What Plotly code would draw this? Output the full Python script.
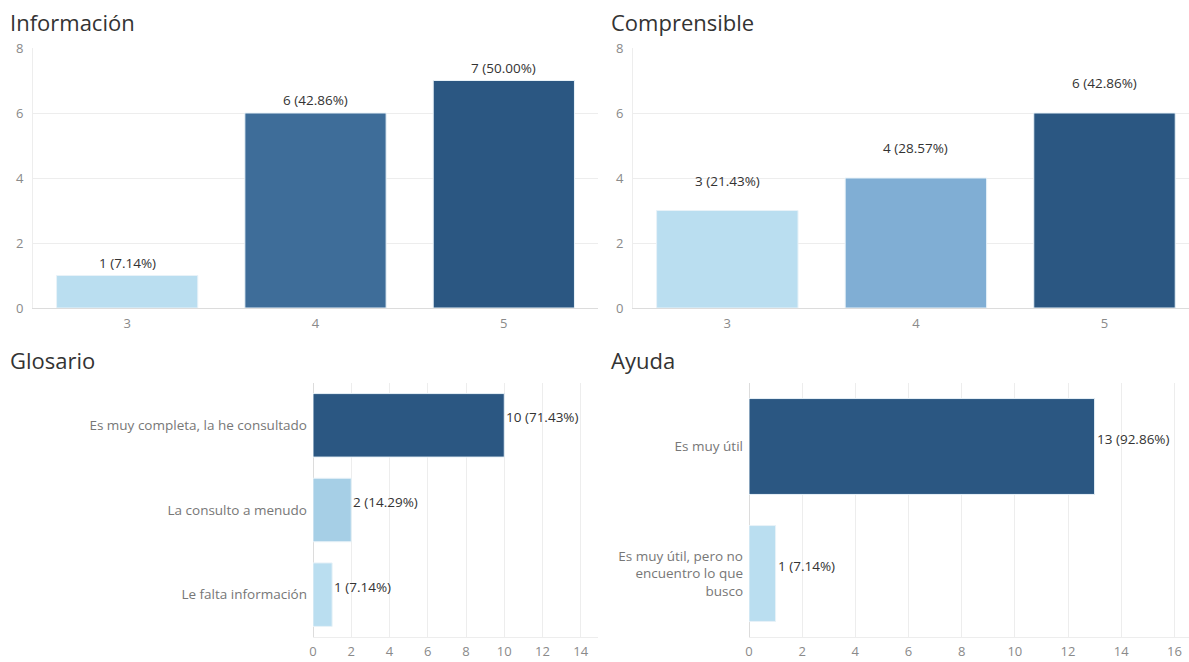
import plotly.graph_objects as go

W, H = 1189, 662

# --- data ---
info_cats = ["3", "4", "5"]
info_vals = [1, 6, 7]
info_pcts = ["7.14%", "42.86%", "50.00%"]
info_colors = ["#badef0", "#3e6d99", "#2b5782"]

comp_cats = ["3", "4", "5"]
comp_vals = [3, 4, 6]
comp_pcts = ["21.43%", "28.57%", "42.86%"]
comp_colors = ["#badef0", "#80aed4", "#2b5782"]

glos_cats = ["Es muy completa, la he consultado", "La consulto a menudo", "Le falta información"]
glos_vals = [10, 2, 1]
glos_pcts = ["71.43%", "14.29%", "7.14%"]
glos_colors = ["#2b5782", "#a6cfe6", "#badef0"]

ayuda_cats = ["Es muy útil", "Es muy útil, pero no<br>encuentro lo que<br>busco"]
ayuda_vals = [13, 1]
ayuda_pcts = ["92.86%", "7.14%"]
ayuda_colors = ["#2b5782", "#badef0"]

FONT = "Open Sans"
GRID = "#ededed"
TICK = "#8a8a8a"
LABEL = "#333333"
VAL_SIZE = 13.5


def px(x):
    return x / W


def py(y):
    return 1 - y / H


fig = go.Figure()

# vertical bar panels
fig.add_trace(go.Bar(x=info_cats, y=info_vals, marker_color=info_colors, width=0.75,
                     marker_line=dict(width=1, color="#e8f2f8"),
                     xaxis="x", yaxis="y", hoverinfo="skip"))
fig.add_trace(go.Bar(x=comp_cats, y=comp_vals, marker_color=comp_colors, width=0.75,
                     marker_line=dict(width=1, color="#e8f2f8"),
                     xaxis="x2", yaxis="y2", hoverinfo="skip"))
# horizontal bar panels
fig.add_trace(go.Bar(y=glos_cats, x=glos_vals, orientation="h", marker_color=glos_colors, width=0.75,
                     marker_line=dict(width=1, color="#e8f2f8"),
                     xaxis="x3", yaxis="y3", hoverinfo="skip"))
fig.add_trace(go.Bar(y=ayuda_cats, x=ayuda_vals, orientation="h", marker_color=ayuda_colors, width=0.755,
                     marker_line=dict(width=1, color="#e8f2f8"),
                     xaxis="x4", yaxis="y4", hoverinfo="skip"))

annotations = []

# value labels (category axes addressed by index)
for i, (v, p) in enumerate(zip(info_vals, info_pcts)):
    annotations.append(dict(x=i, y=v, xref="x", yref="y", text=f"{v} ({p})", showarrow=False,
                            yanchor="bottom", yshift=2, font=dict(size=VAL_SIZE, color=LABEL, family=FONT)))
for i, (v, p) in enumerate(zip(comp_vals, comp_pcts)):
    annotations.append(dict(x=i, y=v, xref="x2", yref="y2", text=f"{v} ({p})", showarrow=False,
                            yanchor="bottom", yshift=19, font=dict(size=VAL_SIZE, color=LABEL, family=FONT)))
for i, (v, p) in enumerate(zip(glos_vals, glos_pcts)):
    annotations.append(dict(x=v, y=i, xref="x3", yref="y3", text=f"{v} ({p})", showarrow=False,
                            xanchor="left", xshift=0, yshift=8, font=dict(size=VAL_SIZE, color=LABEL, family=FONT)))
for i, (v, p) in enumerate(zip(ayuda_vals, ayuda_pcts)):
    annotations.append(dict(x=v, y=i, xref="x4", yref="y4", text=f"{v} ({p})", showarrow=False,
                            xanchor="left", xshift=0, yshift=8, font=dict(size=VAL_SIZE, color=LABEL, family=FONT)))

# panel titles
for title, x, y in [("Información", 8, 22), ("Comprensible", 609, 22),
                    ("Glosario", 8, 360), ("Ayuda", 609, 360)]:
    annotations.append(dict(x=px(x), y=py(y), xref="paper", yref="paper", text=title,
                            showarrow=False, xanchor="left", yanchor="middle",
                            font=dict(size=22, color="#333333", family=FONT)))

vbar_y = dict(range=[0, 8], tickvals=[0, 2, 4, 6, 8], showgrid=True, gridcolor=GRID, gridwidth=1,
              zeroline=False, showline=True, linecolor=GRID, ticks="", automargin=False,
              tickfont=dict(size=13, color=TICK, family=FONT), ticklabelstandoff=6)
vbar_x = dict(type="category", showgrid=False, zeroline=False, showline=True, linecolor="#dcdcdc",
              ticks="", automargin=False,
              tickfont=dict(size=13, color=TICK, family=FONT), ticklabelstandoff=3)
hbar_x = dict(showgrid=True, gridcolor=GRID, gridwidth=1, zeroline=True, zerolinecolor="#dcdcdc",
              zerolinewidth=1, showline=True, linecolor=GRID, ticks="", dtick=2, automargin=False,
              tickfont=dict(size=13, color=TICK, family=FONT), ticklabelstandoff=2)
hbar_y = dict(type="category", showgrid=False, zeroline=False, showline=False, ticks="",
              automargin=False,
              tickfont=dict(size=13.5, color="#777777", family=FONT), ticklabelstandoff=5)

fig.update_layout(
    width=W, height=H,
    margin=dict(l=0, r=0, t=0, b=0),
    paper_bgcolor="white", plot_bgcolor="white",
    showlegend=False, bargap=0.25,
    font=dict(family=FONT),
    annotations=annotations,
    xaxis=dict(vbar_x, domain=[px(33), px(598)], range=[-0.5, 2.5], anchor="y"),
    yaxis=dict(vbar_y, domain=[py(308), py(48)], anchor="x"),
    xaxis2=dict(vbar_x, domain=[px(633), 1.0], range=[-0.5, 2.448], anchor="y2"),
    yaxis2=dict(vbar_y, domain=[py(308), py(48)], anchor="x2"),
    xaxis3=dict(hbar_x, domain=[px(313), px(598)], range=[0, 14.9], anchor="y3"),
    yaxis3=dict(hbar_y, domain=[py(637), py(383)], range=[2.5, -0.5], anchor="x3"),
    xaxis4=dict(hbar_x, domain=[px(749), 1.0], range=[0, 16.55], anchor="y4"),
    yaxis4=dict(hbar_y, domain=[py(637), py(383)], range=[1.5, -0.5], anchor="x4"),
)

fig.write_html("out.html")
